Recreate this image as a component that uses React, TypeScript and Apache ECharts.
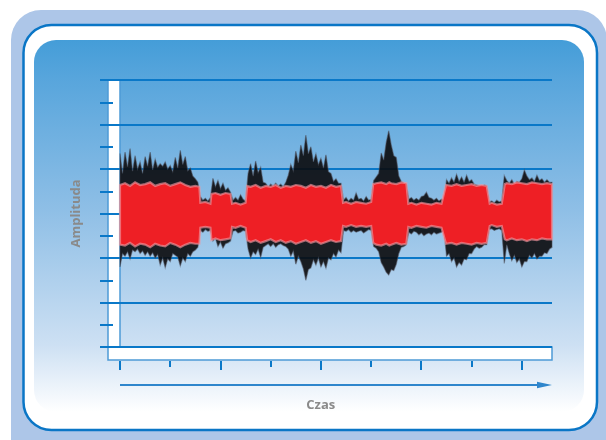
import React, { useEffect, useRef } from "react";
import * as echarts from "echarts";

// time samples of the black waveform
const timeBlack = [
  0, 0.5, 1, 1.5, 2, 2.5, 3, 3.5, 4, 4.5, 5, 5.5, 6, 6.5, 7, 7.5, 8, 8.5, 9, 9.5,
  10, 10.5, 11, 11.5, 12, 12.5, 13, 13.5, 14, 14.5, 15, 15.5, 16, 16.5, 17, 17.5, 18, 18.5, 19, 19.5,
  20, 20.5, 21, 21.5, 22, 22.5, 23, 23.5, 24, 24.5, 25, 25.5, 26, 26.5, 27, 27.5, 28, 28.5, 29, 29.5,
  30, 30.5, 31, 31.5, 32, 32.5, 33, 33.5, 34, 34.5, 35, 35.5, 36, 36.5, 37, 37.5, 38, 38.5, 39, 39.5,
  40, 40.5, 41, 41.5, 42, 42.5, 43, 43.5, 44, 44.5, 45, 45.5, 46, 46.5, 47, 47.5, 48, 48.5, 49, 49.5,
  50, 50.5, 51, 51.5, 52, 52.5, 53, 53.5, 54, 54.5, 55, 55.5, 56, 56.5, 57, 57.5, 58, 58.5, 59, 59.5,
  60, 60.5, 61, 61.5, 62, 62.5, 63, 63.5, 64, 64.5, 65, 65.5, 66, 66.5, 67, 67.5, 68, 68.5, 69, 69.5,
  70, 70.5, 71, 71.5, 72, 72.5, 73, 73.5, 74, 74.5, 75, 75.5, 76, 76.5, 77, 77.5, 78, 78.5, 79, 79.5,
  80, 80.5, 81, 81.5, 82, 82.5, 83, 83.5, 84, 84.5, 85, 85.5, 86,
];
const blackHi = [
  13.5, 9.0, 13.8, 10.5, 14.6, 9.5, 13.0, 10.0, 11.6, 9.0, 12.8, 10.6, 13.8, 9.8, 12.2, 10.4,
  11.2, 10.6, 11.6, 10.0, 10.8, 9.4, 12.6, 10.2, 14.2, 11.0, 12.8, 9.6, 10.2, 8.4, 7.8, 7.0,
  3.8, 3.0, 3.4, 2.8, 3.6,
  7.9, 6.0, 7.4, 5.6, 6.8, 5.2, 5.8, 4.8,
  3.0, 3.6, 3.0, 4.2, 3.2, 2.8,
  9.0, 11.2, 8.4, 11.8, 9.2, 10.4, 7.0, 6.8, 6.0, 6.6, 6.2, 6.8, 6.2, 6.6, 6.0, 7.0, 8.6, 11.0, 9.6,
  14.0, 11.4, 15.4, 13.0, 17.6, 13.4, 15.0, 11.6, 13.4, 11.0, 12.4, 10.2, 13.2, 9.4, 9.0, 7.2, 7.8, 6.8, 6.8,
  3.0, 3.6, 2.8, 3.4, 3.0, 4.6, 3.2, 3.4, 2.8, 3.8, 3.0, 3.2,
  7.4, 8.2, 9.0, 13.6, 12.0, 16.0, 18.6, 15.4, 13.0, 12.6, 8.4, 7.2, 6.8, 6.6,
  3.2, 3.6, 3.0, 3.4, 3.0, 3.8, 4.0, 4.8, 3.6, 3.4, 3.0, 3.4, 2.8, 3.2, 3.0,
  7.6, 6.8, 8.0, 7.0, 8.8, 7.2, 8.2, 7.0, 8.6, 7.2, 7.6, 6.6, 6.4, 6.2, 5.8, 6.4, 6.2,
  2.6, 2.8, 2.4, 3.0, 2.6, 2.8,
  8.5, 7.4, 6.8, 7.6, 6.6, 7.2, 7.0, 7.8, 9.8, 8.4, 7.6, 8.0, 7.2, 8.6, 7.4, 7.8, 7.0, 7.6, 7.0, 7.0,
];
const blackLo = [
  -12.0, -9.0, -9.6, -8.6, -10.2, -8.2, -8.6, -8.0, -9.0, -8.4, -9.4, -8.6, -9.6, -8.8, -10.0, -9.2,
  -11.6, -10.0, -12.2, -10.2, -10.8, -9.0, -9.4, -9.8, -11.8, -10.0, -10.8, -9.0, -9.6, -8.6, -8.2, -7.6,
  -3.8, -4.2, -3.6, -4.0, -3.8,
  -6.2, -5.6, -7.4, -6.4, -7.8, -6.8, -6.6, -6.2,
  -4.0, -3.8, -4.4, -4.2, -3.8, -4.0,
  -8.0, -10.0, -8.6, -9.2, -8.0, -9.9, -7.6, -7.2, -6.8, -7.4, -6.8, -7.6, -7.0, -6.8, -7.2, -7.4, -8.0, -9.6, -8.4,
  -11.4, -9.6, -10.8, -12.4, -15.0, -12.6, -12.2, -10.4, -11.6, -10.0, -12.0, -10.8, -12.3, -10.0, -10.4, -9.0, -9.8, -8.2, -8.8,
  -3.8, -4.0, -3.6, -4.2, -3.8, -4.2, -4.0, -3.8, -4.4, -4.0, -3.6, -3.8,
  -7.4, -7.8, -8.6, -11.0, -12.0, -13.2, -13.8, -12.6, -12.8, -11.4, -9.0, -7.6, -7.4, -7.0,
  -4.2, -4.6, -4.0, -4.2, -4.8, -4.4, -5.0, -4.6, -4.4, -4.8, -4.2, -4.6, -4.4, -4.2, -4.0,
  -9.6, -9.0, -10.8, -10.0, -12.0, -11.0, -11.6, -10.2, -10.4, -9.0, -9.0, -8.0, -7.4, -7.8, -7.6, -7.0, -7.0,
  -3.6, -3.4, -3.8, -3.6, -3.4, -3.8,
  -11.2, -7.0, -9.0, -10.6, -9.4, -11.0, -10.2, -12.0, -10.8, -10.8, -9.4, -10.0, -9.0, -10.2, -9.6, -9.6, -8.8, -9.0, -8.0, -7.6,
];

// time samples of the red waveform
const timeRed = [
  0, 1, 2, 3, 4, 5, 6, 7, 8, 9, 10, 11, 12, 13, 14, 15, 15.8,
  16, 17, 18,
  18.2, 19, 20, 21, 22,
  22.3, 23, 24, 25,
  25.3, 26, 27, 28, 29, 30, 31, 32, 33, 34, 35, 36, 37, 38, 39, 40, 41, 42, 43, 44,
  44.4, 45, 46, 47, 48, 49, 50,
  50.4, 51, 52, 53, 53.6, 54, 55, 56, 57,
  57.4, 58, 59, 60, 61, 62, 63, 64,
  64.9, 66, 67, 68, 69, 70, 71, 72, 73,
  73.6, 74, 75, 76,
  76.6, 77, 78, 79, 80, 81, 82, 83, 84, 85, 86,
];
const redHi = [
  6.4, 6.8, 6.2, 7.0, 6.4, 6.6, 7.0, 6.2, 6.6, 6.8, 6.2, 6.6, 7.0, 6.4, 6.0, 6.2, 6.0,
  2.4, 2.6, 2.2,
  4.4, 4.6, 4.2, 4.6, 4.4,
  2.2, 2.4, 2.0, 2.4,
  6.2, 6.0, 6.4, 5.8, 6.2, 6.0, 6.4, 5.8, 6.2, 6.0, 6.4, 6.2, 5.8, 6.4, 6.0, 6.2, 5.8, 6.4, 6.0, 6.2,
  2.4, 2.6, 2.2, 2.6, 2.4, 2.2, 2.6,
  6.6, 6.8, 7.0, 6.6, 7.0, 6.8, 6.6, 7.0, 6.8,
  2.2, 2.4, 2.0, 2.4, 2.2, 2.0, 2.4, 2.2,
  6.4, 6.2, 6.6, 6.2, 6.4, 6.6, 6.2, 6.4, 6.2,
  2.2, 2.4, 2.0, 2.2,
  6.6, 6.8, 6.6, 7.0, 6.8, 6.6, 7.0, 6.8, 6.6, 6.8, 6.6,
];
const redLo = [
  -7.0, -7.2, -6.6, -7.4, -6.8, -7.0, -7.6, -6.8, -7.2, -7.4, -6.6, -7.0, -7.6, -7.0, -6.6, -6.8, -6.8,
  -3.2, -3.0, -3.2,
  -6.0, -5.6, -6.0, -5.8, -5.6,
  -3.0, -3.2, -2.8, -3.2,
  -6.0, -6.4, -6.0, -6.6, -6.2, -5.8, -6.4, -6.0, -6.6, -6.2, -6.8, -6.4, -6.0, -6.6, -6.2, -6.8, -6.4, -6.0, -6.4, -6.2,
  -2.8, -3.0, -2.6, -3.0, -2.8, -3.0, -2.8,
  -6.6, -7.0, -7.2, -6.8, -7.2, -7.0, -6.6, -7.0, -6.8,
  -3.0, -3.2, -2.8, -3.0, -3.2, -2.8, -3.0, -3.2,
  -6.8, -6.6, -7.0, -6.6, -6.8, -7.0, -6.6, -6.8, -6.6,
  -2.8, -2.6, -3.0, -2.8,
  -5.8, -6.0, -5.6, -6.0, -5.8, -6.2, -5.8, -6.0, -5.6, -5.8, -5.8,
];

const BLUE = "#0a78c8";
const nameStyle = {
  color: "#8a8a8a",
  fontWeight: "bold" as const,
  fontSize: 13,
  fontFamily: "Open Sans",
};

function band(name: string, t: number[], hi: number[], lo: number[], fill: string, stroke: string, lw: number, z: number) {
  return {
    type: "custom",
    name,
    coordinateSystem: "cartesian2d",
    xAxisIndex: 0,
    yAxisIndex: 0,
    z,
    silent: true,
    data: t.map((v, i) => [v, lo[i], hi[i]]),
    encode: { x: 0, y: [1, 2] },
    renderItem: (params: any, api: any) => {
      if (params.dataIndex !== 0) return null;
      const top = t.map((v, i) => api.coord([v, hi[i]]));
      const bottom = t.map((v, i) => api.coord([v, lo[i]])).reverse();
      return {
        type: "polygon",
        shape: { points: top.concat(bottom) },
        style: { fill, stroke, lineWidth: lw, lineJoin: "miter" },
      };
    },
  };
}

export default function App() {
  const ref = useRef<HTMLDivElement>(null);
  useEffect(() => {
    if (!ref.current) return;
    const chart = echarts.init(ref.current, null, { renderer: "svg" });
    chart.setOption({
      animation: false,
      graphic: [
        { type: "rect", z: 0, silent: true, shape: { x: 11, y: 10, width: 596, height: 470, r: 30 }, style: { fill: "#adc6e8" } },
        { type: "rect", z: 0, silent: true, shape: { x: 23.5, y: 25, width: 573.5, height: 405, r: 28 }, style: { fill: "#ffffff", stroke: "#0a76c6", lineWidth: 2.5 } },
        {
          type: "rect", z: 0, silent: true,
          shape: { x: 34, y: 40, width: 550, height: 372, r: 22 },
          style: {
            fill: {
              type: "linear", x: 0, y: 0, x2: 0, y2: 1,
              colorStops: [
                { offset: 0, color: "#449dd8" },
                { offset: 0.1, color: "#57a5dc" },
                { offset: 0.46, color: "#8fbfe6" },
                { offset: 0.82, color: "#cde0f3" },
                { offset: 1, color: "#ffffff" },
              ],
            },
          },
        },
        {
          type: "polygon", z: 1, silent: true,
          shape: { points: [[108, 80], [120, 80], [120, 347], [552, 347], [552, 360], [108, 360]] },
          style: { fill: "#ffffff", stroke: "#4d9bd6", lineWidth: 1.5 },
        },
        { type: "line", z: 1, silent: true, shape: { x1: 120, y1: 385, x2: 544, y2: 385 }, style: { stroke: "#2f86cc", lineWidth: 2 } },
        { type: "polygon", z: 1, silent: true, shape: { points: [[537, 381.8], [552, 385], [537, 388.2]] }, style: { fill: "#2f86cc" } },
      ],
      grid: [
        { left: 120, top: 80, right: 54, bottom: 93, containLabel: false },
        { left: 120, top: 80, width: 401.6, height: 281, containLabel: false },
      ],
      xAxis: [
        {
          type: "value", min: 0, max: 86, gridIndex: 0, z: 3,
          axisLine: { show: false },
          axisTick: { show: false },
          axisLabel: { show: false },
          splitLine: { show: false },
        },
        {
          type: "value", min: 0, max: 80, interval: 20, gridIndex: 1, position: "bottom", z: 3,
          axisLine: { show: false },
          axisTick: { show: true, length: 9, lineStyle: { color: BLUE, width: 2 } },
          minorTick: { show: true, splitNumber: 2, length: 6, lineStyle: { color: BLUE, width: 2 } },
          axisLabel: { show: false },
          splitLine: { show: false },
          minorSplitLine: { show: false },
          name: "Czas", nameLocation: "middle", nameGap: 36,
          nameTextStyle: nameStyle,
        },
      ],
      yAxis: [
        {
          type: "value", min: -30, max: 30, interval: 10, gridIndex: 0, position: "left", z: 3,
          axisLine: { show: false },
          axisTick: { show: true, length: 20, lineStyle: { color: BLUE, width: 2 } },
          axisLabel: { show: false },
          splitLine: { show: true, lineStyle: { color: BLUE, width: 2 } },
          name: "Amplituda", nameLocation: "middle", nameGap: 39,
          nameTextStyle: nameStyle,
        },
        {
          type: "value", min: -30, max: 30, interval: 5, gridIndex: 0, position: "left", offset: 20, z: 3,
          axisLine: { show: false },
          axisTick: { show: true, inside: true, length: 13, lineStyle: { color: BLUE, width: 2 } },
          axisLabel: { show: false },
          splitLine: { show: false },
        },
        {
          type: "value", min: 0, max: 1, gridIndex: 1, show: false,
        },
      ],
      series: [
        band("czarny", timeBlack, blackHi, blackLo, "rgba(10,10,12,0.9)", "rgba(80,80,92,0.5)", 1.2, 5),
        band("czerwony", timeRed, redHi, redLo, "#ee1f25", "rgba(240,150,160,0.65)", 2.2, 6),
      ],
    });
    return () => chart.dispose();
  }, []);
  return <div ref={ref} style={{ position: "fixed", left: 0, top: 0, width: 606, height: 440 }} />;
}
